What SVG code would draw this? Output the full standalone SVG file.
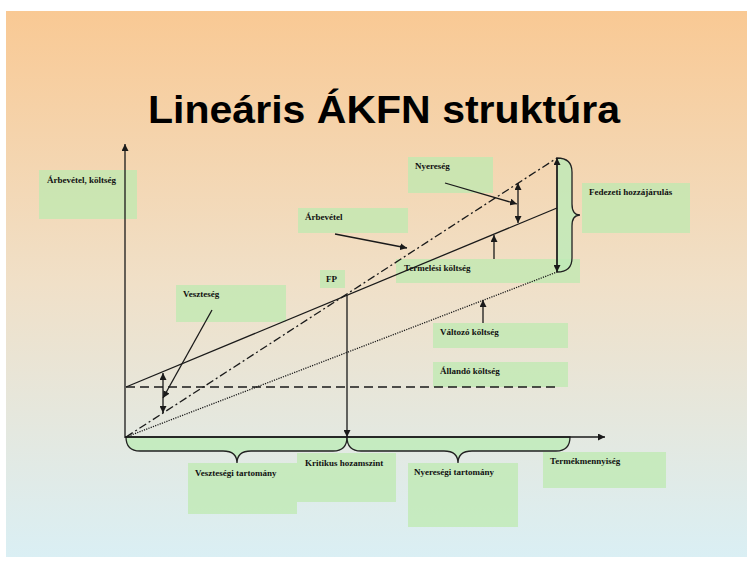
<svg xmlns="http://www.w3.org/2000/svg" width="747" height="562" viewBox="0 0 747 562">
<defs>
<linearGradient id="bg" x1="0" y1="0" x2="0" y2="1">
<stop offset="0" stop-color="#F9C994"/>
<stop offset="0.5" stop-color="#F0E0C8"/>
<stop offset="1" stop-color="#DAEFF4"/>
</linearGradient>
<marker id="ah" viewBox="0 0 10 10" refX="10" refY="5" markerWidth="7" markerHeight="7" markerUnits="userSpaceOnUse" orient="auto-start-reverse">
<path d="M0,0 L10,5 L0,10 Z" fill="#1a1a1a"/>
</marker>
</defs>
<style>
.box{fill:#BDE9B0;fill-opacity:0.75}
.lbl{font-family:"Liberation Serif","Times New Roman",serif;font-size:9px;font-weight:bold;fill:#111}
.ln{stroke:#1a1a1a;stroke-width:1.3;fill:none}
.br{stroke:#222;stroke-width:1.3;fill:#BDEBB8;fill-opacity:0.8}
</style>
<rect x="0" y="0" width="747" height="562" fill="#ffffff"/>
<rect x="6" y="11" width="741" height="546" fill="url(#bg)"/>
<text x="384" y="123" text-anchor="middle" font-family="'Liberation Sans',Arial,sans-serif" font-weight="bold" font-size="39" fill="#000" textLength="472" lengthAdjust="spacingAndGlyphs">Lineáris ÁKFN struktúra</text>

<g id="n-arbevetel-koltseg"><rect class="box" x="39" y="170" width="98" height="49"/><text class="lbl" x="47" y="183">Árbevétel, költség</text></g>
<g id="n-nyereseg"><rect class="box" x="408" y="157" width="85" height="36"/><text class="lbl" x="415" y="169">Nyereség</text></g>
<g id="n-arbevetel"><rect class="box" x="298" y="208" width="110" height="25"/><text class="lbl" x="305" y="220">Árbevétel</text></g>
<g id="n-termelesi"><rect class="box" x="396" y="259" width="184" height="24"/><text class="lbl" x="404" y="271">Termelési költség</text></g>
<g id="n-fp"><rect class="box" x="320" y="270" width="25" height="18"/><text class="lbl" x="326" y="282">FP</text></g>
<g id="n-fedezeti"><rect class="box" x="582" y="183" width="108" height="50"/><text class="lbl" x="589" y="195">Fedezeti hozzájárulás</text></g>
<g id="n-veszteseg"><rect class="box" x="176" y="285" width="110" height="37"/><text class="lbl" x="183" y="297">Veszteség</text></g>
<g id="n-valtozo"><rect class="box" x="433" y="323" width="135" height="25"/><text class="lbl" x="440" y="335">Változó költség</text></g>
<g id="n-allando"><rect class="box" x="433" y="362" width="135" height="25"/><text class="lbl" x="440" y="374">Állandó költség</text></g>
<g id="n-kritikus"><rect class="box" x="297" y="453" width="99" height="49"/><text class="lbl" x="305" y="466">Kritikus hozamszint</text></g>
<g id="n-vesztesegi"><rect class="box" x="188" y="463" width="109" height="51"/><text class="lbl" x="195" y="476">Veszteségi tartomány</text></g>
<g id="n-nyeresegi"><rect class="box" x="408" y="463" width="110" height="64"/><text class="lbl" x="414" y="475">Nyereségi tartomány</text></g>
<g id="n-termekmennyiseg"><rect class="box" x="543" y="452" width="123" height="36"/><text class="lbl" x="550" y="464">Termékmennyiség</text></g>

<g id="connectors">
<!-- braces -->
<path class="br" d="M126,437 Q126,451 140,451 L223,451 Q237,451 237,463 Q237,451 251,451 L333,451 Q347,451 347,437 Z"/>
<path class="br" d="M347,437 Q347,451 361,451 L444,451 Q458,451 458,463 Q458,451 472,451 L556,451 Q570,451 570,437 Z"/>
<path class="br" d="M557,158 Q572,158 572,172 L572,204 Q572,215 580,215 Q572,215 572,226 L572,258 Q572,272 557,272 Z"/>
<!-- axes -->
<line class="ln" x1="125" y1="438" x2="125" y2="144" marker-end="url(#ah)"/>
<line class="ln" x1="125" y1="437" x2="605" y2="437" marker-end="url(#ah)"/>
<!-- lines -->
<line class="ln" x1="126" y1="387" x2="556" y2="387" stroke-dasharray="9,5"/>
<line class="ln" x1="126" y1="387" x2="557" y2="208"/>
<line class="ln" x1="126" y1="437" x2="557" y2="158" stroke-dasharray="8,3,2,3" stroke-width="1.1"/>
<line class="ln" x1="126" y1="437" x2="557" y2="272" stroke-dasharray="1.2,1.2" stroke-width="1"/>
<!-- FP vertical -->
<line class="ln" x1="347" y1="295" x2="347" y2="437" marker-end="url(#ah)"/>
<!-- right double arrow -->
<line class="ln" x1="557" y1="158" x2="557" y2="272" marker-start="url(#ah)" marker-end="url(#ah)"/>
<!-- nyereség double arrow -->
<line class="ln" x1="518" y1="183" x2="518" y2="223" marker-start="url(#ah)" marker-end="url(#ah)"/>
<!-- veszteség double arrow -->
<line class="ln" x1="163" y1="373" x2="163" y2="413" marker-start="url(#ah)" marker-end="url(#ah)"/>
<!-- pointers -->
<line class="ln" x1="445" y1="183" x2="517" y2="204" marker-end="url(#ah)"/>
<line class="ln" x1="335" y1="234" x2="407" y2="248" marker-end="url(#ah)"/>
<line class="ln" x1="494" y1="259" x2="494" y2="235" marker-end="url(#ah)"/>
<line class="ln" x1="483" y1="323" x2="483" y2="300" marker-end="url(#ah)"/>
<line class="ln" x1="212" y1="310" x2="163" y2="398" marker-end="url(#ah)"/>
</g>
</svg>
